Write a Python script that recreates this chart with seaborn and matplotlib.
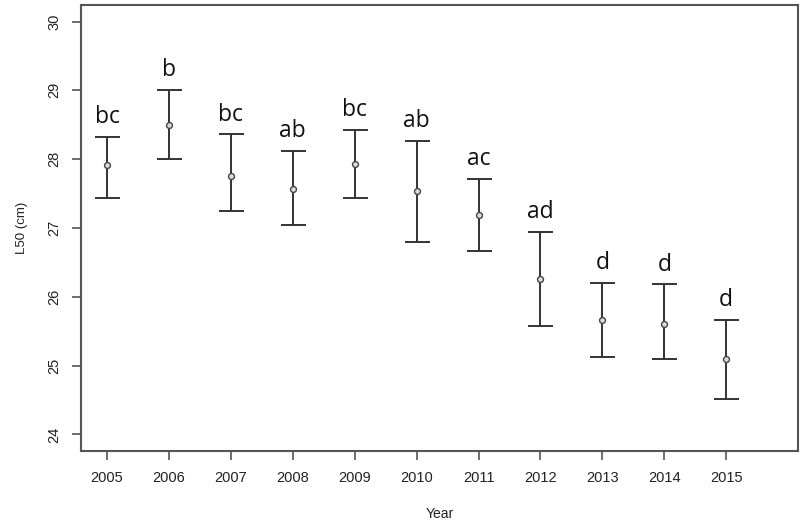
import matplotlib
matplotlib.use("Agg")
import matplotlib.pyplot as plt
import seaborn as sns
import pandas as pd

years = [2005, 2006, 2007, 2008, 2009, 2010, 2011, 2012, 2013, 2014, 2015]
l50 = [27.91, 28.49, 27.76, 27.56, 27.93, 27.54, 27.19, 26.26, 25.67, 25.61, 25.09]
upper = [28.32, 29.01, 28.36, 28.12, 28.43, 28.27, 27.71, 26.94, 26.20, 26.18, 25.66]
lower = [27.44, 28.00, 27.25, 27.04, 27.43, 26.79, 26.66, 25.58, 25.12, 25.09, 24.52]
letters = ["bc", "b", "bc", "ab", "bc", "ab", "ac", "ad", "d", "d", "d"]
yticks = [24, 25, 26, 27, 28, 29, 30]

df = pd.DataFrame({"Year": years, "L50": l50, "upper": upper, "lower": lower, "letter": letters})

sns.set_style("white")
plt.rcParams["font.family"] = ["Liberation Sans", "DejaVu Sans"]

fig = plt.figure(figsize=(8.04, 5.25), dpi=100)
ax = fig.add_axes([81 / 804, 74 / 525, 717 / 804, 446 / 525])

ink = "#333333"
ax.errorbar(df["Year"], df["L50"],
            yerr=[df["L50"] - df["lower"], df["upper"] - df["L50"]],
            fmt="none", ecolor=ink, elinewidth=1.4, capsize=9, capthick=1.4, zorder=2)
sns.scatterplot(data=df, x="Year", y="L50", ax=ax, marker="o", s=18,
                facecolor="#dddddd", edgecolor="#444444", linewidth=1.0, zorder=3)

for x, u, t in zip(df["Year"], df["upper"], df["letter"]):
    ax.annotate(t, (x, u), xytext=(0, 10), textcoords="offset points",
                ha="center", va="baseline", fontsize=16.5, color="#111111",
                family=["Open Sans", "DejaVu Sans"])

ax.set_xlim(2004.58, 2016.16)
ax.set_ylim(23.76, 30.24)
ax.set_xticks(years)
ax.set_xticklabels([str(y) for y in years])
ax.set_yticks(yticks)
ax.set_yticklabels([str(v) for v in yticks], rotation=90, va="center")

for s in ax.spines.values():
    s.set_color("#555555")
    s.set_linewidth(1.5)
ax.tick_params(axis="both", which="major", length=6.2, width=1.2, color="#555555",
               labelsize=10.5, labelcolor="#222222", direction="out",
               bottom=True, left=True)
ax.tick_params(axis="x", pad=8)
ax.tick_params(axis="y", pad=8)

ax.set_xlabel("Year", fontsize=10, color="#222222", labelpad=16)
ax.set_ylabel("L50 (cm)", fontsize=9.5, color="#222222", labelpad=14)

fig.savefig("out.png", dpi=100)
